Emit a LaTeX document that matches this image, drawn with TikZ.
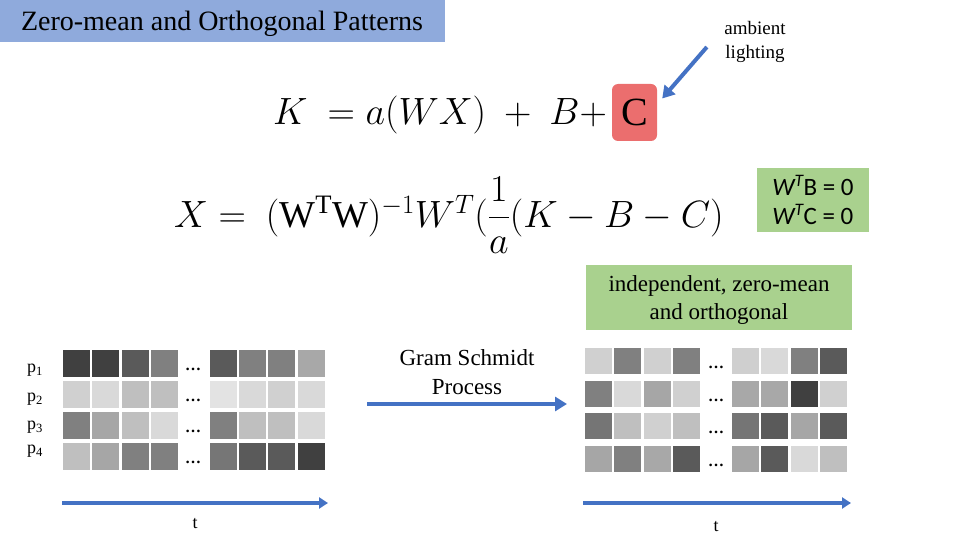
\RequirePackage{fix-cm}
\documentclass[tikz,border=0pt]{standalone}
\usepackage{amsmath}
\usepackage{fontspec}
\setmainfont{Liberation Serif}
\newfontfamily\calibrifont{Carlito}
\usetikzlibrary{arrows.meta,positioning}
\definecolor{titleblue}{RGB}{143,170,220}
\definecolor{arrowblue}{RGB}{68,114,196}
\definecolor{ambred}{RGB}{235,110,110}
\definecolor{boxgreen}{RGB}{169,209,142}
\tikzset{
  bluearrow/.style={draw=arrowblue,line width=4pt,line cap=butt,-{Triangle[length=12pt,width=14pt]}},
  axisarrow/.style={draw=arrowblue,line width=3.5pt,line cap=butt,-{Triangle[length=9pt,width=11pt]}},
  cell/.style={inner sep=0pt,minimum width=27pt,minimum height=27pt},
  dotsnode/.style={font=\bfseries\fontsize{16}{16}\selectfont,inner sep=0pt},
}
\begin{document}
\begin{tikzpicture}[x=1pt,y=-1pt,line join=round]
\path[use as bounding box] (0,0) rectangle (960,540);
% title
\fill[titleblue] (0,0) rectangle (445,42);
\node[font=\fontsize{28}{32}\selectfont] (title) at (222,24) {Zero-mean and Orthogonal Patterns};
% model
\node[anchor=base west,inner sep=0pt,font=\fontsize{38}{46}\selectfont] (eqK) at (273,125) {$K\ =a(WX)\ +\ B+$};
\node[fill=ambred,rounded corners=6pt,minimum width=45pt,minimum height=57pt,inner sep=0pt,font=\fontsize{40}{48}\selectfont] (cbox) at (634.5,112.5) {C};
\node[align=center,font=\fontsize{19}{24}\selectfont] (amb) at (755,42) {ambient\\lighting};
\draw[bluearrow] ([xshift=-14pt,yshift=-5pt]amb.west) -- ([xshift=5pt,yshift=14pt]cbox.east);
% solution
\node[anchor=west,inner sep=0pt,font=\fontsize{38}{46}\selectfont] (eqX) at (174,215) {$X=\ (\mathrm{W^TW})^{-1}W^T(\dfrac{1}{a}(K-B-C)$};
\node[fill=boxgreen,minimum width=112pt,minimum height=64pt,inner sep=0pt,align=left,font=\calibrifont\fontsize{25}{29}\selectfont] (orth) at (813,200) {\textit{W\textsuperscript{T}}B = 0\\\textit{W\textsuperscript{T}}C = 0};
\fill[boxgreen] (586,265) rectangle (852,330);
\node[align=center,font=\fontsize{23}{28}\selectfont] (indep) at (719,300) {independent, zero-mean\\and orthogonal};
% patterns before
\foreach \r/\y/\vals in {1/350/{64,64,90,128,90,128,128,168},
                         2/381/{208,217,191,191,227,217,208,217},
                         3/412/{128,166,191,217,128,191,191,217},
                         4/443/{191,166,128,128,118,90,90,64}}{
  \foreach \v [count=\c] in \vals {
    \pgfmathsetmacro\cx{63+(\c-1)*29.4+(\c>4)*29+13.5}
    \node[cell,fill={rgb,255:red,\v;green,\v;blue,\v}] (l-\r-\c) at (\cx,\y+13.5) {};
  }
  \node[dotsnode] (ldots-\r) at (193,\y+19) {…};
}
\node[font=\fontsize{18}{20}\selectfont] (p1) at (35,370) {p\textsubscript{1}};
\node[font=\fontsize{18}{20}\selectfont] (p2) at (35,399) {p\textsubscript{2}};
\node[font=\fontsize{18}{20}\selectfont] (p3) at (35,427) {p\textsubscript{3}};
\node[font=\fontsize{18}{20}\selectfont] (p4) at (35,451) {p\textsubscript{4}};
% patterns after
\foreach \r/\y/\vals in {1/348/{208,128,208,128,207,217,128,90},
                         2/381/{128,217,166,208,168,168,64,208},
                         3/413/{117,191,208,191,117,90,166,90},
                         4/446/{166,128,168,90,166,90,217,191}}{
  \foreach \v [count=\c] in \vals {
    \pgfmathsetmacro\cx{585+(\c-1)*29.3+(\c>4)*29.7+13.5}
    \node[cell,minimum height=26pt,fill={rgb,255:red,\v;green,\v;blue,\v}] (r-\r-\c) at (\cx,\y+13) {};
  }
  \node[dotsnode] (rdots-\r) at (716,\y+19) {…};
}
% Gram Schmidt step
\node[align=center,font=\fontsize{23}{29}\selectfont] (gs) at (467,372) {Gram Schmidt\\Process};
\coordinate (gsA) at (367,404);
\coordinate (gsB) at (567,404);
\draw[bluearrow] (gsA) -- (gsB);
% time axes
\coordinate (tA) at (62,503);
\coordinate (tB) at (328,503);
\coordinate (tC) at (583,503);
\coordinate (tD) at (851,503);
\draw[axisarrow] (tA) -- (tB);
\draw[axisarrow] (tC) -- (tD);
\node[font=\fontsize{18}{20}\selectfont] (t1) at (195,524) {t};
\node[font=\fontsize{18}{20}\selectfont] (t2) at (716,527) {t};
\end{tikzpicture}
\end{document}
